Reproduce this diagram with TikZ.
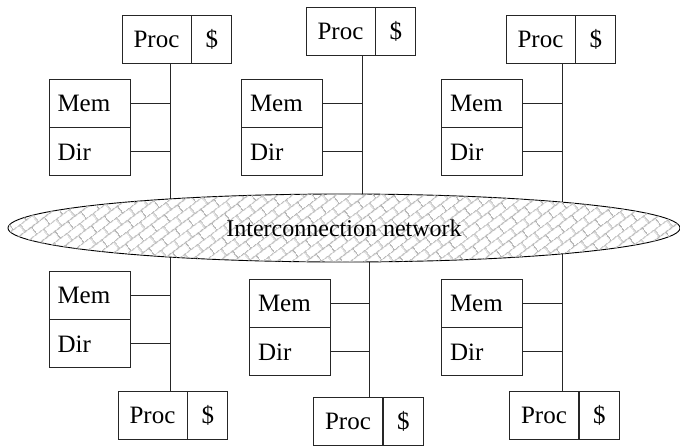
\documentclass[tikz,border=0pt]{standalone}
\usepackage{fontspec}
\setmainfont{Liberation Serif}
\usetikzlibrary{positioning,shapes.geometric,patterns.meta}

\tikzdeclarepattern{
  name=netbricks,
  type=colored,
  bounding box={(0pt,0pt) and (16pt,18pt)},
  tile size={(16pt,18pt)},
  tile transformation={rotate=37},
  code={
    \draw[black!28,line width=1.1pt]
      (0pt,4.5pt) -- (16pt,4.5pt)
      (0pt,13.5pt) -- (16pt,13.5pt)
      (4pt,4.5pt) -- (4pt,13.5pt)
      (12pt,13.5pt) -- (12pt,18pt)
      (12pt,0pt) -- (12pt,4.5pt);
  }
}

\begin{document}
\begin{tikzpicture}[x=1pt,y=-1pt,
    box/.style={draw=black!85,line width=0.9pt,minimum height=48pt,inner sep=0pt,
      font=\fontsize{25pt}{30pt}\selectfont},
    proc/.style={box,minimum width=69pt},
    cache/.style={box,minimum width=40pt},
    mem/.style={box,minimum width=81pt,text width=64pt,inner xsep=8.5pt,align=left},
    bus/.style={draw=black!85,line width=0.9pt},
    net/.style={ellipse,draw=black,line width=0.9pt,fill=white,
      postaction={pattern=netbricks},minimum width=672pt,minimum height=68pt,
      inner sep=0pt,font=\fontsize{24pt}{28pt}\selectfont}]
    \useasboundingbox (0,0) rectangle (680,445);

    % taps on the network
    \coordinate (n1) at (170,228);
    \coordinate (n2) at (362,228);
    \coordinate (n3) at (562,228);
    \coordinate (n4) at (170,228);
    \coordinate (n5) at (369,228);
    \coordinate (n6) at (562,228);

    % upper nodes
    \node[proc] (p1) at (156.5,39) {Proc};
    \node[cache,right=0pt of p1] (c1) {\$};
    \node[mem] (m1) at (89.5,103) {Mem};
    \node[mem,below=0pt of m1] (d1) {Dir};

    \node[proc] (p2) at (340.5,31) {Proc};
    \node[cache,right=0pt of p2] (c2) {\$};
    \node[mem] (m2) at (282,103) {Mem};
    \node[mem,below=0pt of m2] (d2) {Dir};

    \node[proc] (p3) at (540.5,39) {Proc};
    \node[cache,right=0pt of p3] (c3) {\$};
    \node[mem] (m3) at (482,103) {Mem};
    \node[mem,below=0pt of m3] (d3) {Dir};

    % lower nodes
    \node[proc] (p4) at (152.5,415) {Proc};
    \node[cache,right=0pt of p4] (c4) {\$};
    \node[mem] (m4) at (89.5,295) {Mem};
    \node[mem,below=0pt of m4] (d4) {Dir};

    \node[proc] (p5) at (348,421) {Proc};
    \node[cache,right=0pt of p5] (c5) {\$};
    \node[mem] (m5) at (290,303) {Mem};
    \node[mem,below=0pt of m5] (d5) {Dir};

    \node[proc] (p6) at (544,415) {Proc};
    \node[cache,right=0pt of p6] (c6) {\$};
    \node[mem] (m6) at (482,303) {Mem};
    \node[mem,below=0pt of m6] (d6) {Dir};

    % buses
    \foreach \i in {1,2,3} {
        \path[bus] (p\i.south -| n\i) -- (n\i);
        \path[bus] (m\i.east) -- (m\i.east -| n\i);
        \path[bus] (d\i.east) -- (d\i.east -| n\i);
    }
    \foreach \i in {4,5,6} {
        \path[bus] (p\i.north -| n\i) -- (n\i);
        \path[bus] (m\i.east) -- (m\i.east -| n\i);
        \path[bus] (d\i.east) -- (d\i.east -| n\i);
    }

    \node[net] (net) at (344,228) {Interconnection network};
\end{tikzpicture}
\end{document}
